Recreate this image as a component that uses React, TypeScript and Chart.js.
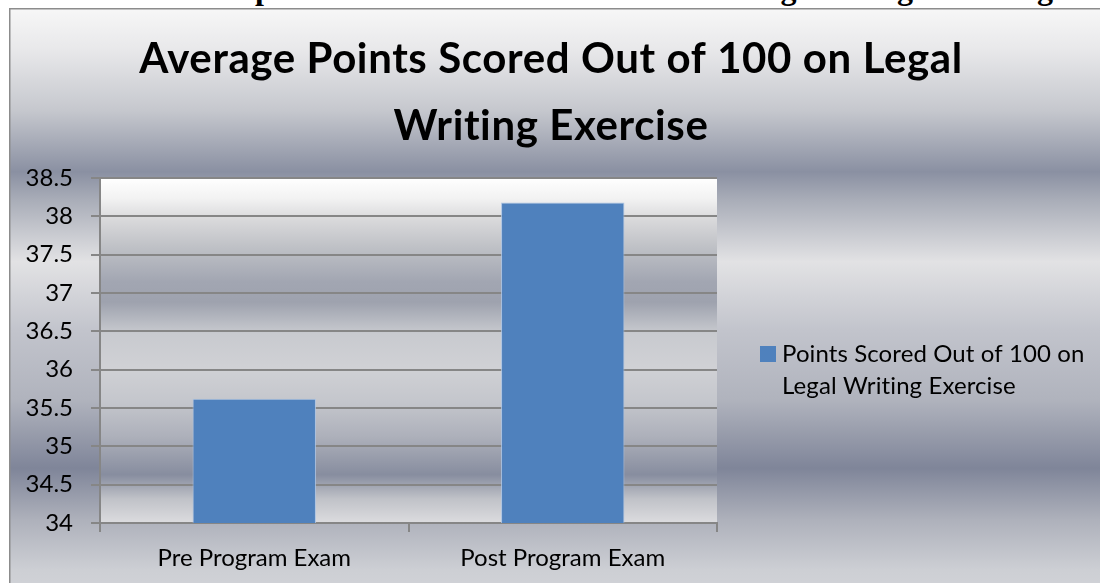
import React, { useEffect, useRef } from "react";
import { Chart, registerables } from "chart.js";

Chart.register(...registerables);

const HEADER_TEXT = "Student Participants as measured in Pre and Post Program Legal Writing";
const TITLE_LINES = ["Average Points Scored Out of 100 on Legal", "Writing Exercise"];
const CATEGORIES = ["Pre Program Exam", "Post Program Exam"];
const SERIES_LABEL = "Points Scored Out of 100 on Legal Writing Exercise";
const LEGEND_LINES = ["Points Scored Out of 100 on", "Legal Writing Exercise"];
const SCORES = [35.62, 38.18];
const Y_MIN = 34;
const Y_MAX = 38.5;
const Y_STEP = 0.5;

const FONT = "Lato";
const CANVAS_W = 1092;
const CANVAS_H = 600;

const outerStops: [number, string][] = [
  [0, "#f7f7f7"],
  [0.07, "#e8e8ea"],
  [0.17, "#c6c8ce"],
  [0.273, "#8a90a2"],
  [0.32, "#a9adb8"],
  [0.423, "#e2e2e4"],
  [0.537, "#c2c4cc"],
  [0.653, "#b0b3bd"],
  [0.767, "#7f8599"],
  [0.853, "#aeb1bb"],
  [0.937, "#cdcfd4"],
  [1, "#d4d5da"],
];

const plotStops: [number, string][] = [
  [0, "#ffffff"],
  [0.06, "#f2f2f2"],
  [0.12, "#d9d9db"],
  [0.2, "#bfc1c6"],
  [0.3, "#a2a6b2"],
  [0.36, "#9ea2ae"],
  [0.45, "#c8cacf"],
  [0.55, "#d0d1d5"],
  [0.65, "#c4c6cc"],
  [0.75, "#adb0ba"],
  [0.86, "#878d9f"],
  [0.93, "#c0c2c8"],
  [1, "#dcdcdf"],
];

const backgroundPlugin = {
  id: "bgPlugin",
  beforeDraw(chart: any) {
    const { ctx, width, height, chartArea } = chart;
    ctx.save();
    const g = ctx.createLinearGradient(0, 0, 0, height);
    outerStops.forEach(([o, c]) => g.addColorStop(o, c));
    ctx.fillStyle = g;
    ctx.fillRect(0, 0, width, height);
    const pg = ctx.createLinearGradient(0, chartArea.top, 0, chartArea.bottom);
    plotStops.forEach(([o, c]) => pg.addColorStop(o, c));
    ctx.fillStyle = pg;
    ctx.fillRect(chartArea.left, chartArea.top, chartArea.right - chartArea.left, chartArea.bottom - chartArea.top);
    ctx.strokeStyle = "#8c8c8c";
    ctx.lineWidth = 1.5;
    ctx.beginPath();
    ctx.moveTo(0.75, height);
    ctx.lineTo(0.75, 0.75);
    ctx.lineTo(width, 0.75);
    ctx.stroke();
    ctx.restore();
  },
};

const titleLegendPlugin = {
  id: "titleLegend",
  afterDraw(chart: any) {
    const { ctx } = chart;
    ctx.save();
    ctx.fillStyle = "#000";
    ctx.textAlign = "center";
    ctx.textBaseline = "alphabetic";
    ctx.font = `bold 42px ${FONT}`;
    if ("letterSpacing" in ctx) (ctx as any).letterSpacing = "0.6px";
    ctx.fillText(TITLE_LINES[0], 542, 65);
    ctx.fillText(TITLE_LINES[1], 542, 132);

    const ds = chart.data.datasets[0];
    ctx.fillStyle = ds.backgroundColor;
    ctx.fillRect(751, 338, 16, 16);
    ctx.fillStyle = "#000";
    ctx.textAlign = "left";
    ctx.font = `24px ${FONT}`;
    if ("letterSpacing" in ctx) (ctx as any).letterSpacing = "0.1px";
    ctx.fillText(LEGEND_LINES[0], 773, 354);
    ctx.fillText(LEGEND_LINES[1], 773, 386);
    ctx.restore();
  },
};

export default function App() {
  const ref = useRef<HTMLCanvasElement>(null);

  useEffect(() => {
    if (!ref.current) return;
    const chart = new Chart(ref.current, {
      type: "bar",
      data: {
        labels: CATEGORIES,
        datasets: [
          {
            label: SERIES_LABEL,
            data: SCORES,
            backgroundColor: "#4f81bd",
            borderColor: "rgba(170,195,228,0.9)",
            borderWidth: 1,
            categoryPercentage: 1,
            barPercentage: 0.4,
          },
        ],
      },
      options: {
        responsive: false,
        animation: false,
        layout: { padding: { top: 170, right: 384, left: 0, bottom: 0 } },
        plugins: {
          legend: { display: false },
          title: { display: false },
          tooltip: { enabled: false },
        },
        scales: {
          x: {
            grid: {
              display: true,
              drawOnChartArea: false,
              drawTicks: true,
              tickLength: 9,
              color: "#868686",
              lineWidth: 2,
            },
            border: { display: true, color: "#868686", width: 2 },
            ticks: { color: "#000", font: { family: FONT, size: 24 }, padding: 12 },
            afterFit(scale: any) {
              scale.height = 85;
            },
          },
          y: {
            min: Y_MIN,
            max: Y_MAX,
            grid: {
              color: "#868686",
              lineWidth: 2,
              tickLength: 9,
            },
            border: { display: true, color: "#868686", width: 2 },
            ticks: {
              stepSize: Y_STEP,
              color: "#000",
              font: { family: FONT, size: 24 },
              padding: 18,
              callback: (v: any) => String(Number(v)),
            },
            afterFit(scale: any) {
              scale.width = 91;
            },
          },
        },
      },
      plugins: [backgroundPlugin, titleLegendPlugin],
    });
    return () => chart.destroy();
  }, []);

  return (
    <div
      style={{
        position: "fixed",
        left: 0,
        top: 0,
        width: 1100,
        height: 583,
        overflow: "hidden",
        background: "#fff",
      }}
    >
      <div
        style={{
          position: "absolute",
          left: 48,
          top: -28,
          font: "bold 32px 'Liberation Serif'",
          lineHeight: "32px",
          whiteSpace: "nowrap",
          color: "#000",
        }}
      >
        {HEADER_TEXT}
      </div>
      <div style={{ position: "absolute", left: 9, top: 8, width: CANVAS_W, height: CANVAS_H }}>
        <canvas ref={ref} width={CANVAS_W} height={CANVAS_H} style={{ display: "block" }} />
      </div>
    </div>
  );
}
